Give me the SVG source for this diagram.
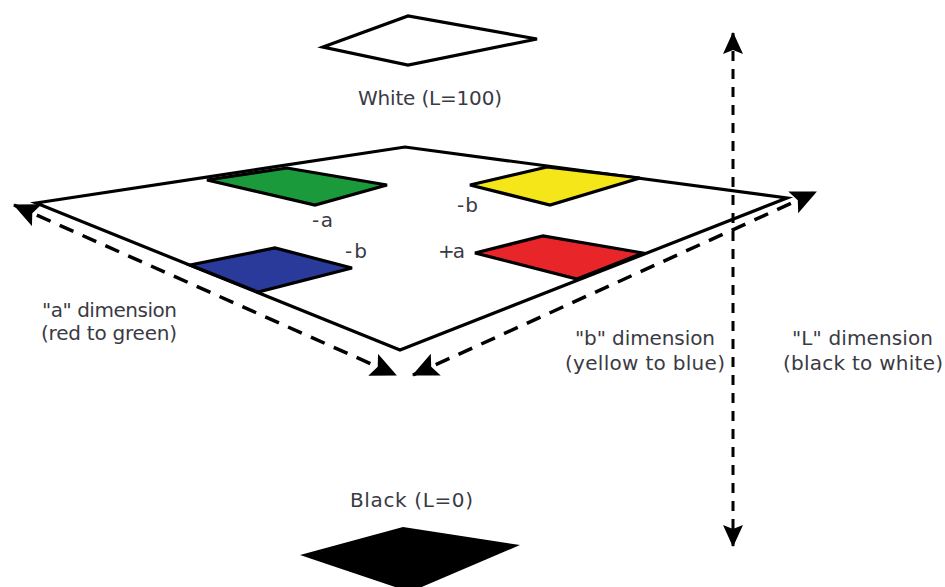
<svg xmlns="http://www.w3.org/2000/svg" width="945" height="587" viewBox="0 0 945 587">
  <style>
    .lbl { font-family: "DejaVu Sans", "Liberation Sans", sans-serif; font-size: 20px; fill: #3a3a44; }
    .edge { fill: none; stroke: #000; stroke-width: 3.2; stroke-linejoin: miter; }
    .patch { stroke: #000; stroke-width: 3.2; stroke-linejoin: miter; }
    .dash { fill: none; stroke: #000; stroke-width: 3.5; stroke-dasharray: 15 10; }
    .vdash { fill: none; stroke: #000; stroke-width: 3; stroke-dasharray: 10 8; }
  </style>
  <defs>
    <marker id="arrow" markerUnits="userSpaceOnUse" viewBox="0 0 26 24" markerWidth="26" markerHeight="24" refX="25" refY="12" orient="auto-start-reverse">
      <path d="M0,0 L26,12 L0,24 L5,12 z" fill="#000"/>
    </marker>
    <marker id="arrowV" markerUnits="userSpaceOnUse" viewBox="0 0 22 20" markerWidth="22" markerHeight="20" refX="21" refY="10" orient="auto-start-reverse">
      <path d="M0,0 L22,10 L0,20 L4,10 z" fill="#000"/>
    </marker>
  </defs>
  <rect width="945" height="587" fill="#fff"/>

  <g id="white-swatch">
    <polygon class="patch" points="323,47 408,16 537,39 408,65" fill="#fff"/>
    <text class="lbl" x="358" y="105" textLength="144">White (L=100)</text>
  </g>

  <g id="plane">
    <polygon class="edge" points="36,203 405,147 787,198 400,350" fill="#fff"/>
  </g>

  <g id="green-patch">
    <polygon class="patch" points="207,180 287,168 387,185 315,205" fill="#1a9a3a"/>
    <text class="lbl" x="312" y="227" textLength="21">-a</text>
  </g>

  <g id="yellow-patch">
    <polygon class="patch" points="470,185 547,167 640,178 550,205" fill="#f5e61a"/>
    <text class="lbl" x="457" y="212" textLength="21">-b</text>
  </g>

  <g id="blue-patch">
    <polygon class="patch" points="190,265 275,248 352,268 258,292" fill="#2a3a9a"/>
    <text class="lbl" x="345" y="258" textLength="22">-b</text>
  </g>

  <g id="red-patch">
    <polygon class="patch" points="475,253 543,236 643,253 577,279" fill="#e8262a"/>
    <text class="lbl" x="438" y="258" textLength="27">+a</text>
  </g>

  <g id="black-swatch">
    <polygon points="300,555 403,527 520,545 410,592" fill="#000"/>
    <text class="lbl" x="350" y="507" textLength="123">Black (L=0)</text>
  </g>

  <g id="labels">
    <text class="lbl" x="42" y="317" textLength="135">"a" dimension</text>
    <text class="lbl" x="41" y="340" textLength="136">(red to green)</text>
    <text class="lbl" x="575" y="345" textLength="140">"b" dimension</text>
    <text class="lbl" x="565" y="370" textLength="160">(yellow to blue)</text>
    <text class="lbl" x="792" y="345" textLength="141">"L" dimension</text>
    <text class="lbl" x="783" y="370" textLength="160">(black to white)</text>
  </g>

  <g id="connectors">
    <line id="a-axis" class="dash" x1="14" y1="205" x2="396" y2="375" marker-start="url(#arrow)" marker-end="url(#arrow)"/>
    <line id="b-axis" class="dash" x1="413" y1="375" x2="816" y2="192" marker-start="url(#arrow)" marker-end="url(#arrow)"/>
    <line id="L-axis" class="vdash" x1="733" y1="33" x2="733" y2="546" marker-start="url(#arrowV)" marker-end="url(#arrowV)"/>
  </g>
</svg>
